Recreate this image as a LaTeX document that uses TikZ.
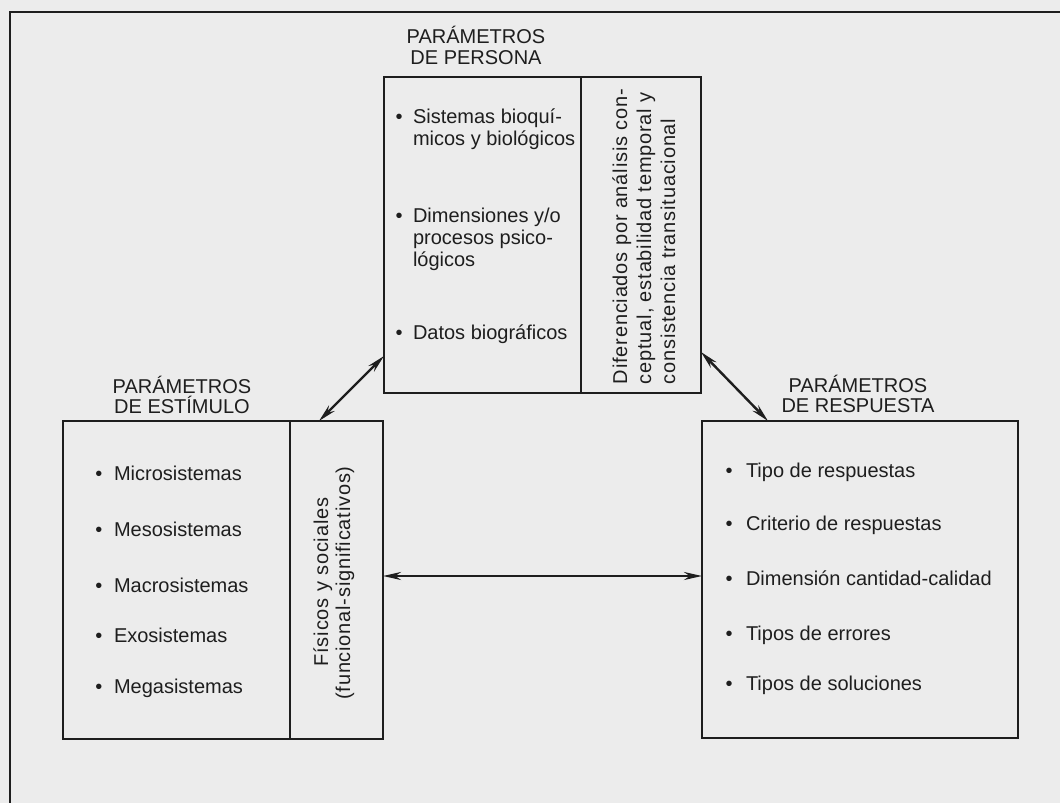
\documentclass[tikz,border=0pt]{standalone}
\usepackage{fontspec}
\setmainfont{Liberation Sans}
\usetikzlibrary{arrows.meta,calc}
\definecolor{bg}{HTML}{ECECEC}
\definecolor{ink}{HTML}{1E1E1E}
\tikzset{
  box/.style={draw=ink,line width=2.2pt,rectangle,inner sep=0pt,outer sep=0pt},
  txt/.style={inner sep=0pt,outer sep=0pt,text=ink,font=\fontsize{20pt}{22pt}\selectfont},
  itm/.style={txt,anchor=base west},
  bul/.style={txt,anchor=base},
  vtxt/.style={txt,rotate=90,font=\fontsize{20pt}{22pt}\selectfont\addfontfeature{LetterSpace=4}},
  arr/.style={draw=ink,line width=2.4pt,{Stealth[length=18pt,width=8pt]}-{Stealth[length=18pt,width=8pt]}},
  frame/.style={draw=ink,line width=2.2pt}
}
\begin{document}
\begin{tikzpicture}[x=1pt,y=-1pt]
\fill[bg] (0,0) rectangle (1060,803);
\useasboundingbox (0,0) rectangle (1060,803);
\draw[frame] (10,803) -- (10,12) -- (1060,12);

% boxes
\node[box,minimum width=197pt,minimum height=316pt] (pl) at (482.5,235) {};
\node[box,minimum width=120pt,minimum height=316pt] (pr) at (641,235) {};
\node[box,minimum width=227pt,minimum height=318pt] (sl) at (176.5,580) {};
\node[box,minimum width=93pt,minimum height=318pt] (sr) at (336.5,580) {};
\node[box,minimum width=316pt,minimum height=317pt] (rb) at (860,579.5) {};

% labels
\node[txt,anchor=base] (pt1) at (476,43) {PARÁMETROS};
\node[txt,anchor=base] (pt2) at (476,64) {DE PERSONA};
\node[txt,anchor=base] (st1) at (182,393) {PARÁMETROS};
\node[txt,anchor=base] (st2) at (182,413) {DE ESTÍMULO};
\node[txt,anchor=base] (rt1) at (858,392) {PARÁMETROS};
\node[txt,anchor=base] (rt2) at (858,412) {DE RESPUESTA};

% persona items
\node[bul] (pb1) at (399,123) {\textbullet};
\node[itm] (pi1a) at (413,123) {Sistemas bioquí-};
\node[itm] (pi1b) at (413,145) {micos y biológicos};
\node[bul] (pb2) at (399,222) {\textbullet};
\node[itm] (pi2a) at (413,222) {Dimensiones y/o};
\node[itm] (pi2b) at (413,244) {procesos psico-};
\node[itm] (pi2c) at (413,266) {lógicos};
\node[bul] (pb3) at (399,339) {\textbullet};
\node[itm] (pi3) at (413,339) {Datos biográficos};

\node[vtxt,anchor=base west] (pv1) at (627,384) {Diferenciados por análisis con-};
\node[vtxt,anchor=base west] (pv2) at (651,384) {ceptual, estabilidad temporal y};
\node[vtxt,anchor=base west] (pv3) at (675,384) {consistencia transituacional};

% estimulo items
\node[bul] (sb1) at (99,480) {\textbullet};
\node[itm] (si1) at (114,480) {Microsistemas};
\node[bul] (sb2) at (99,536) {\textbullet};
\node[itm] (si2) at (114,536) {Mesosistemas};
\node[bul] (sb3) at (99,592) {\textbullet};
\node[itm] (si3) at (114,592) {Macrosistemas};
\node[bul] (sb4) at (99,642) {\textbullet};
\node[itm] (si4) at (114,642) {Exosistemas};
\node[bul] (sb5) at (99,693) {\textbullet};
\node[itm] (si5) at (114,693) {Megasistemas};

\node[vtxt,anchor=base] (sv1) at (328,582) {Físicos y sociales};
\node[vtxt,anchor=base] (sv2) at (350,583) {(funcional-significativos)};

% respuesta items
\node[bul] (rb1) at (729,477) {\textbullet};
\node[itm] (ri1) at (746,477) {Tipo de respuestas};
\node[bul] (rb2) at (729,530) {\textbullet};
\node[itm] (ri2) at (746,530) {Criterio de respuestas};
\node[bul] (rb3) at (729,585) {\textbullet};
\node[itm] (ri3) at (746,585) {Dimensión cantidad-calidad};
\node[bul] (rb4) at (729,640) {\textbullet};
\node[itm] (ri4) at (746,640) {Tipos de errores};
\node[bul] (rb5) at (729,690) {\textbullet};
\node[itm] (ri5) at (746,690) {Tipos de soluciones};

% connectors
\coordinate (a1) at ($(pl.south west)+(0,-37)$);
\coordinate (a2) at ($(sr.north west)+(29,0)$);
\draw[arr] (a1) -- (a2);
\coordinate (b1) at ($(pr.south east)+(0,-41)$);
\coordinate (b2) at ($(rb.north west)+(66,0)$);
\draw[arr] (b1) -- (b2);
\coordinate (c1) at ($(sr.east)+(0,-4)$);
\draw[arr] (c1) -- (c1 -| rb.west);
\end{tikzpicture}
\end{document}
